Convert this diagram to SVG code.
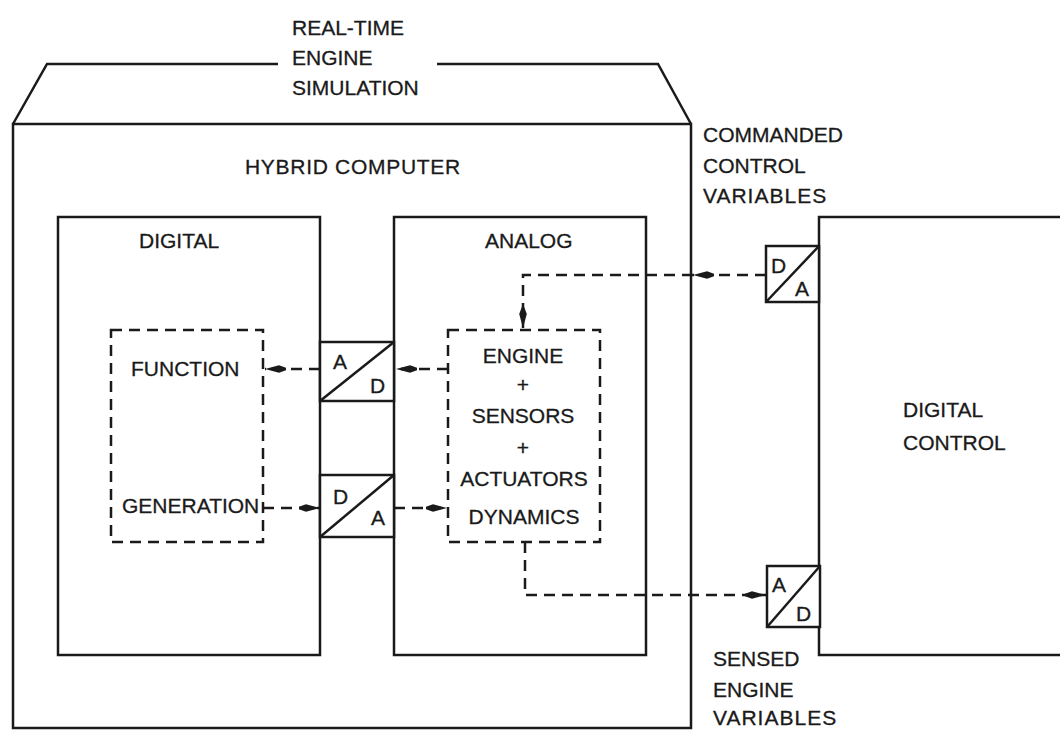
<svg xmlns="http://www.w3.org/2000/svg" width="1060" height="731" viewBox="0 0 1060 731">
<style>
.ln{fill:none;stroke:#1a1a1a;stroke-width:2.5;stroke-linejoin:miter}
.box{fill:#fff;stroke:#1a1a1a;stroke-width:2.5}
.dbox{fill:none;stroke:#1a1a1a;stroke-width:2.5;stroke-dasharray:11 7}
.dl{fill:none;stroke:#1a1a1a;stroke-width:2.5;stroke-dasharray:11 7}
text{font-family:"Liberation Sans",Arial,sans-serif;font-size:21px;fill:#1a1a1a;stroke:#1a1a1a;stroke-width:0.3}
.c{text-anchor:middle}
</style>
<defs>
<marker id="ah" markerUnits="userSpaceOnUse" markerWidth="24" markerHeight="12" viewBox="-22 -6 24 12" refX="0" refY="0" orient="auto">
<path d="M0,0 L-14,-3.8 L-21,-1.2 L-21,1.2 L-14,3.8 Z" fill="#1a1a1a"/>
</marker>
</defs>
<rect width="1060" height="731" fill="#fff"/>

<g id="real-time-engine-simulation">
<path class="ln" d="M278,64 H47 L13,124 M437,64 H658 L691,124"/>
<text x="292" y="35">REAL-TIME</text>
<text x="292" y="65">ENGINE</text>
<text x="292" y="95">SIMULATION</text>
</g>

<g id="hybrid-computer">
<rect class="box" x="13" y="124" width="678" height="604"/>
<text x="245" y="174" letter-spacing="0.7">HYBRID COMPUTER</text>
</g>

<g id="digital">
<rect class="box" x="58" y="217" width="262" height="438"/>
<text x="139" y="248">DIGITAL</text>
</g>

<g id="analog">
<rect class="box" x="394" y="217" width="252" height="438"/>
<text x="485" y="248">ANALOG</text>
</g>

<g id="function-generation">
<rect class="dbox" x="111" y="330" width="152" height="212"/>
<text x="131" y="376">FUNCTION</text>
<text x="122" y="513">GENERATION</text>
</g>

<g id="engine-dynamics">
<rect class="dbox" x="448" y="330" width="152" height="212"/>
<text class="c" x="523" y="363">ENGINE</text>
<text class="c" x="523" y="392" font-size="18">+</text>
<text class="c" x="523" y="423">SENSORS</text>
<text class="c" x="523" y="455" font-size="18">+</text>
<text class="c" x="524" y="486">ACTUATORS</text>
<text class="c" x="524" y="524">DYNAMICS</text>
</g>

<g id="ad-converter-1">
<rect class="box" x="320" y="342" width="74" height="59"/>
<path class="ln" d="M320,401 L394,342"/>
<text x="333" y="369">A</text>
<text x="370" y="393">D</text>
</g>

<g id="da-converter-1">
<rect class="box" x="320" y="475" width="74" height="62"/>
<path class="ln" d="M320,537 L394,475"/>
<text x="333" y="504">D</text>
<text x="371" y="525">A</text>
</g>

<g id="digital-control">
<path class="box" d="M1070,217 H819 V655 H1070"/>
<text x="903" y="417">DIGITAL</text>
<text x="903" y="450">CONTROL</text>
</g>

<g id="da-converter-2">
<rect class="box" x="766" y="246" width="53" height="56"/>
<path class="ln" d="M766,302 L819,246"/>
<text x="771" y="273">D</text>
<text x="795" y="296">A</text>
</g>

<g id="ad-converter-2">
<rect class="box" x="767" y="566" width="53" height="61"/>
<path class="ln" d="M767,627 L820,566"/>
<text x="772" y="592">A</text>
<text x="796" y="621">D</text>
</g>

<g id="labels">
<text x="703" y="142">COMMANDED</text>
<text x="703" y="173">CONTROL</text>
<text x="703" y="203" letter-spacing="1">VARIABLES</text>
<text x="713" y="666">SENSED</text>
<text x="713" y="697">ENGINE</text>
<text x="713" y="725" letter-spacing="1">VARIABLES</text>
</g>

<g id="connectors">
<path class="dl" d="M448,369 H396" marker-end="url(#ah)"/>
<path class="dl" d="M320,369 H265" marker-end="url(#ah)"/>
<path class="dl" d="M263,508 H320" marker-end="url(#ah)"/>
<path class="dl" d="M394,508 H447" marker-end="url(#ah)"/>
<path class="dl" d="M766,275 H693" marker-end="url(#ah)"/>
<path class="dl" d="M693,275 H523 V328" marker-end="url(#ah)"/>
<path class="dl" d="M525,542 V595 H766" marker-end="url(#ah)"/>
</g>
</svg>
